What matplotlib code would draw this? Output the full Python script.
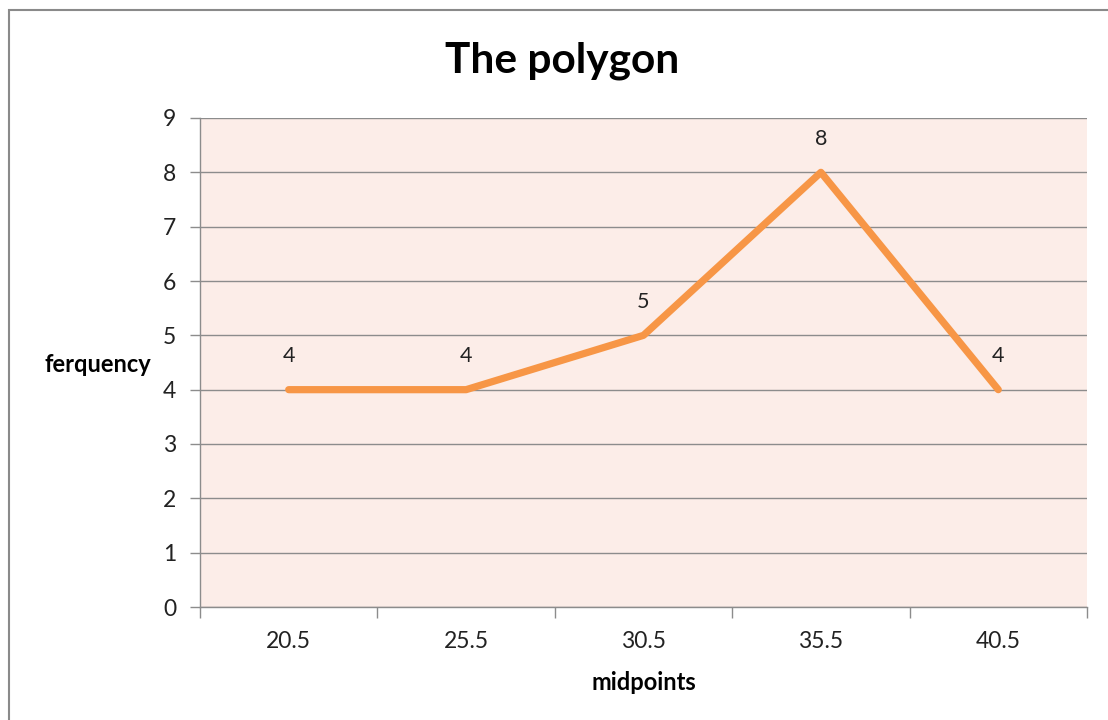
import matplotlib
matplotlib.use("Agg")
import matplotlib.pyplot as plt
from matplotlib.patches import Rectangle

plt.rcParams['font.family'] = ['Lato', 'DejaVu Sans']

midpoints = ["20.5", "25.5", "30.5", "35.5", "40.5"]
frequency = [4, 4, 5, 8, 4]
y_ticks = list(range(0, 10))

fig = plt.figure(figsize=(11.08, 7.2), dpi=100)
fig.patch.set_facecolor("white")
# outer chart border
fig.add_artist(Rectangle((9/1108, -0.01), 1.2, (720-10)/720 + 0.01, transform=fig.transFigure,
                         fill=False, edgecolor="#8a8a8a", linewidth=1.5))

ax = fig.add_axes([200/1108, (720-607)/720, 887/1108, 489/720])
ax.set_facecolor("#FCEDE8")

x = list(range(len(midpoints)))
ax.plot(x, frequency, color="#F79646", linewidth=5.2, solid_capstyle="round",
        solid_joinstyle="round", zorder=3)
for xi, v in zip(x, frequency):
    ax.annotate(str(v), (xi, v), xytext=(0, 24), textcoords="offset points",
                ha="center", va="center", fontsize=15.5, color="#222222")

ax.set_xlim(-0.5, len(midpoints) - 0.5)
ax.set_ylim(0, 9)
ax.set_yticks(y_ticks)
ax.set_yticklabels([str(t) for t in y_ticks], fontsize=16.5, color="#222222")
ax.yaxis.grid(True, color="#8c8c8c", linewidth=1.0)
ax.set_axisbelow(True)

ax.set_xticks([i - 0.5 for i in range(len(midpoints) + 1)])
ax.set_xticklabels([""] * (len(midpoints) + 1))
ax.set_xticks(x, minor=True)
ax.set_xticklabels(midpoints, minor=True, fontsize=16.5, color="#222222")
ax.tick_params(axis="x", which="major", length=8, color="#8c8c8c", width=1)
ax.tick_params(axis="x", which="minor", length=0, pad=17)
ax.tick_params(axis="y", length=7, color="#8c8c8c", width=1, pad=10)

for s in ["top", "right"]:
    ax.spines[s].set_visible(False)
for s in ["left", "bottom"]:
    ax.spines[s].set_color("#8c8c8c")
    ax.spines[s].set_linewidth(1.0)

fig.text(562/1108, 1 - 61/720, "The polygon", ha="center", va="center",
         fontsize=30.5, fontweight="bold", color="black")
fig.text(98/1108, 1 - 365/720, "ferquency", ha="center", va="center",
         fontsize=17, fontweight="bold", color="black")
fig.text(644/1108, 1 - 682/720, "midpoints", ha="center", va="center",
         fontsize=17, fontweight="bold", color="black")

fig.savefig("out.png", dpi=100)
